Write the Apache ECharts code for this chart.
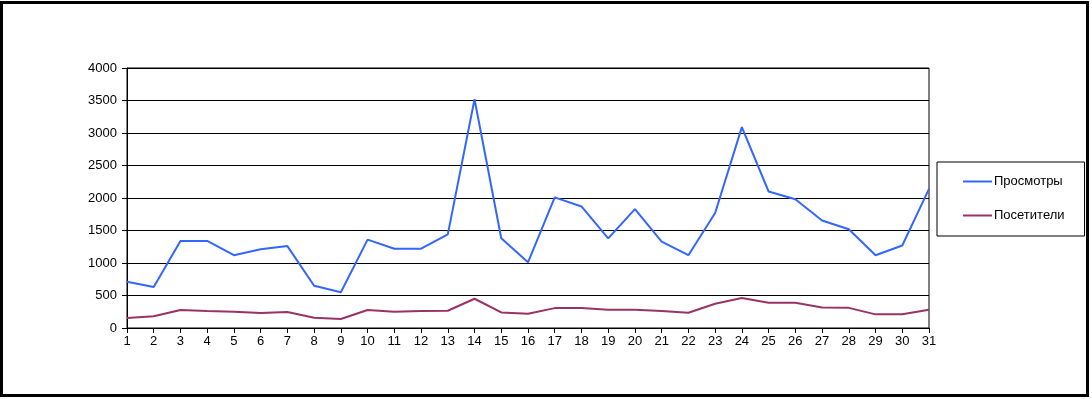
<!DOCTYPE html>
<html>
<head>
<meta charset="utf-8">
<script src="https://cdn.jsdelivr.net/npm/echarts@6/dist/echarts.min.js"></script>
<style>
  html, body { margin: 0; padding: 0; background: #fff; }
  #chart { width: 1092px; height: 399px; }
</style>
</head>
<body>
<div id="chart"></div>
<script>
// days of the month
const days = ['1','2','3','4','5','6','7','8','9','10','11','12','13','14','15','16',
  '17','18','19','20','21','22','23','24','25','26','27','28','29','30','31'];

// page views
const views = [710, 630, 1340, 1340, 1120, 1210, 1260, 650, 550, 1360, 1220, 1220, 1440, 3520, 1380, 1010,
  2010, 1870, 1380, 1830, 1330, 1120, 1770, 3090, 2100, 1980, 1655, 1520, 1120, 1270, 2140];

// visitors
const visitors = [155, 180, 276, 260, 250, 230, 245, 158, 138, 276, 250, 260, 265, 450, 240, 220,
  306, 306, 281, 280, 260, 235, 373, 460, 388, 388, 317, 310, 210, 210, 281];

const chart = echarts.init(document.getElementById('chart'));

const font = 'Liberation Sans, Arial, sans-serif';

const option = {
  animation: false,
  backgroundColor: '#fff',
  textStyle: { fontFamily: font },
  grid: {
    left: 127, right: 163, top: 68, bottom: 71,
    show: true, borderColor: '#000', borderWidth: 1
  },
  legend: {
    orient: 'vertical',
    left: 937, top: 162,
    padding: [13, 20, 14, 26],
    itemGap: 21,
    itemWidth: 29, itemHeight: 2,
    icon: 'rect',
    borderColor: '#000', borderWidth: 1, borderRadius: 0,
    textStyle: { fontFamily: font, fontSize: 13, color: '#000', padding: [0, 0, 0, -3] },
    data: ['Просмотры', 'Посетители']
  },
  xAxis: {
    type: 'category',
    data: days,
    boundaryGap: false,
    axisLine: { lineStyle: { color: '#000', width: 1 } },
    axisTick: { show: true, length: 5, lineStyle: { color: '#000' } },
    axisLabel: { color: '#000', fontSize: 13, fontFamily: font, margin: 7, interval: 0 },
    splitLine: { show: false }
  },
  yAxis: {
    type: 'value',
    min: 0, max: 4000, interval: 500,
    axisLine: { show: true, lineStyle: { color: '#000', width: 1 } },
    axisTick: { show: true, length: 5, lineStyle: { color: '#000' } },
    axisLabel: { color: '#000', fontSize: 13, fontFamily: font, margin: 10, formatter: v => String(v) },
    splitLine: { show: true, lineStyle: { color: '#000', width: 1 } }
  },
  series: [
    {
      name: 'Просмотры', type: 'line', data: views,
      symbol: 'none', color: '#3366ff',
      lineStyle: { width: 2, color: '#3366ff' }
    },
    {
      name: 'Посетители', type: 'line', data: visitors,
      symbol: 'none', color: '#993366',
      lineStyle: { width: 2, color: '#993366' }
    }
  ],
  graphic: [
    {
      type: 'rect',
      shape: { x: 1.5, y: 2.5, width: 1086, height: 393 },
      style: { fill: null, stroke: '#000', lineWidth: 3 },
      silent: true
    }
  ]
};

chart.setOption(option);
</script>
</body>
</html>
